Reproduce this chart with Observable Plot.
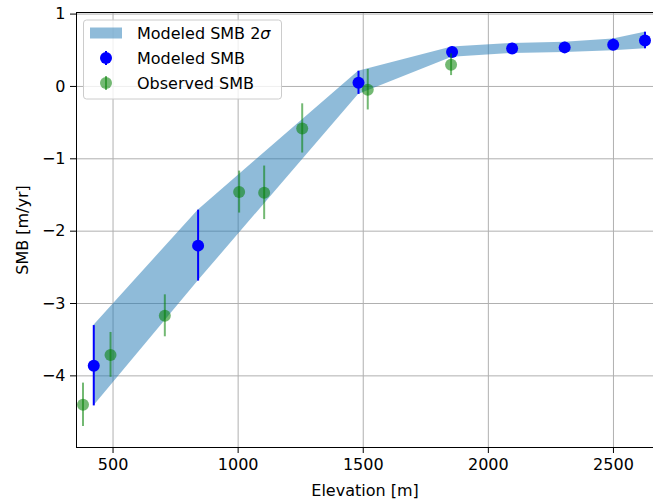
<!DOCTYPE html>
<html>
<head>
<meta charset="utf-8">
<script src="https://cdn.jsdelivr.net/npm/d3@7"></script>
<script src="https://cdn.jsdelivr.net/npm/@observablehq/plot@0.6"></script>
<style>
  html, body { margin: 0; padding: 0; background: #fff; }
  #chart { position: relative; width: 653px; height: 502px; }
</style>
</head>
<body>
<div id="chart"></div>
<script>
// Modeled SMB
const modElev = [423, 840, 1481, 1855, 2095, 2305, 2499, 2626];
const modSMB  = [-3.86, -2.20, 0.05, 0.475, 0.525, 0.54, 0.575, 0.635];
const modErr  = [0.555, 0.49, 0.16, 0.07, 0.07, 0.07, 0.08, 0.115]; // 2 sigma

// Observed SMB
const obsElev = [380, 490, 707, 1004, 1104, 1256, 1518, 1851];
const obsSMB  = [-4.40, -3.71, -3.17, -1.46, -1.47, -0.58, -0.045, 0.30];
const obsErr  = [0.30, 0.31, 0.29, 0.29, 0.37, 0.34, 0.28, 0.15];

const xTicks = [500, 1000, 1500, 2000, 2500];
const yTicks = [1, 0, -1, -2, -3, -4];
const xDomain = [354, 2660];
const yDomain = [-4.99, 1.022];

const modeled = modElev.map((e, i) => ({elev: e, smb: modSMB[i], lo: modSMB[i] - modErr[i], hi: modSMB[i] + modErr[i]}));
const observed = obsElev.map((e, i) => ({elev: e, smb: obsSMB[i], lo: obsSMB[i] - obsErr[i], hi: obsSMB[i] + obsErr[i]}));

const font = "DejaVu Sans, sans-serif";
const fs = 16;
const fmtY = d => (d < 0 ? "\u2212" + Math.abs(d) : String(d));
const fmtX = d => String(d);

const plot = Plot.plot({
  width: 653,
  height: 502,
  marginLeft: 76,
  marginRight: 0,
  marginTop: 12,
  marginBottom: 55,
  style: {fontFamily: font, fontSize: fs + "px", color: "#000", background: "#fff", overflow: "visible"},
  x: {domain: xDomain},
  y: {domain: yDomain},
  marks: [
    Plot.gridX(xTicks, {stroke: "#b0b0b0", strokeOpacity: 1, strokeWidth: 1}),
    Plot.gridY(yTicks, {stroke: "#b0b0b0", strokeOpacity: 1, strokeWidth: 1}),
    Plot.areaY(modeled, {x: "elev", y1: "lo", y2: "hi", fill: "#1f77b4", fillOpacity: 0.5}),
    Plot.ruleX(modeled, {x: "elev", y1: "lo", y2: "hi", stroke: "blue", strokeWidth: 2}),
    Plot.dot(modeled, {x: "elev", y: "smb", r: 6, fill: "blue", stroke: "none"}),
    Plot.ruleX(observed, {x: "elev", y1: "lo", y2: "hi", stroke: "green", strokeOpacity: 0.55, strokeWidth: 2}),
    Plot.dot(observed, {x: "elev", y: "smb", r: 6, fill: "green", fillOpacity: 0.55, stroke: "none"}),
    Plot.ruleX([xDomain[0]], {stroke: "#000", strokeWidth: 1}),
    Plot.ruleY([yDomain[0], yDomain[1]], {stroke: "#000", strokeWidth: 1}),
    Plot.axisX({ticks: xTicks, tickFormat: fmtX, tickSize: 6, tickPadding: 5, label: "Elevation [m]", labelAnchor: "center", labelArrow: "none", labelOffset: 48, fontSize: fs}),
    Plot.axisY({ticks: yTicks, tickFormat: fmtY, tickSize: 6, tickPadding: 5, label: "SMB [m/yr]", labelAnchor: "center", labelArrow: "none", labelOffset: 60, fontSize: fs})
  ]
});

document.getElementById("chart").appendChild(plot);

// Legend (inside plot, upper-left)
const svg = d3.select(plot);
const lg = svg.append("g").attr("font-family", font).attr("font-size", fs).attr("text-anchor", "start");
lg.append("rect").attr("x", 83.5).attr("y", 20).attr("width", 198).attr("height", 79)
  .attr("rx", 3).attr("fill", "#fff").attr("fill-opacity", 0.8).attr("stroke", "#cccccc");
const items = [
  {label: "Modeled SMB 2", italic: "σ", kind: "band"},
  {label: "Modeled SMB", kind: "mod"},
  {label: "Observed SMB", kind: "obs"}
];
items.forEach((it, i) => {
  const cy = 33 + i * 25;
  if (it.kind === "band") {
    lg.append("rect").attr("x", 90).attr("y", cy - 5.5).attr("width", 32).attr("height", 11)
      .attr("fill", "#1f77b4").attr("fill-opacity", 0.5);
  } else {
    const c = it.kind === "mod" ? "blue" : "green";
    const op = it.kind === "mod" ? 1 : 0.55;
    lg.append("line").attr("x1", 106).attr("x2", 106).attr("y1", cy - 7).attr("y2", cy + 7)
      .attr("stroke", c).attr("stroke-width", 2).attr("stroke-opacity", op);
    lg.append("circle").attr("cx", 106).attr("cy", cy).attr("r", 6).attr("fill", c).attr("fill-opacity", op);
  }
  const t = lg.append("text").attr("x", 137).attr("y", cy).attr("dy", "0.35em").attr("fill", "#000");
  t.append("tspan").text(it.label);
  if (it.italic) t.append("tspan").attr("font-style", "italic").text(it.italic);
});
</script>
</body>
</html>
